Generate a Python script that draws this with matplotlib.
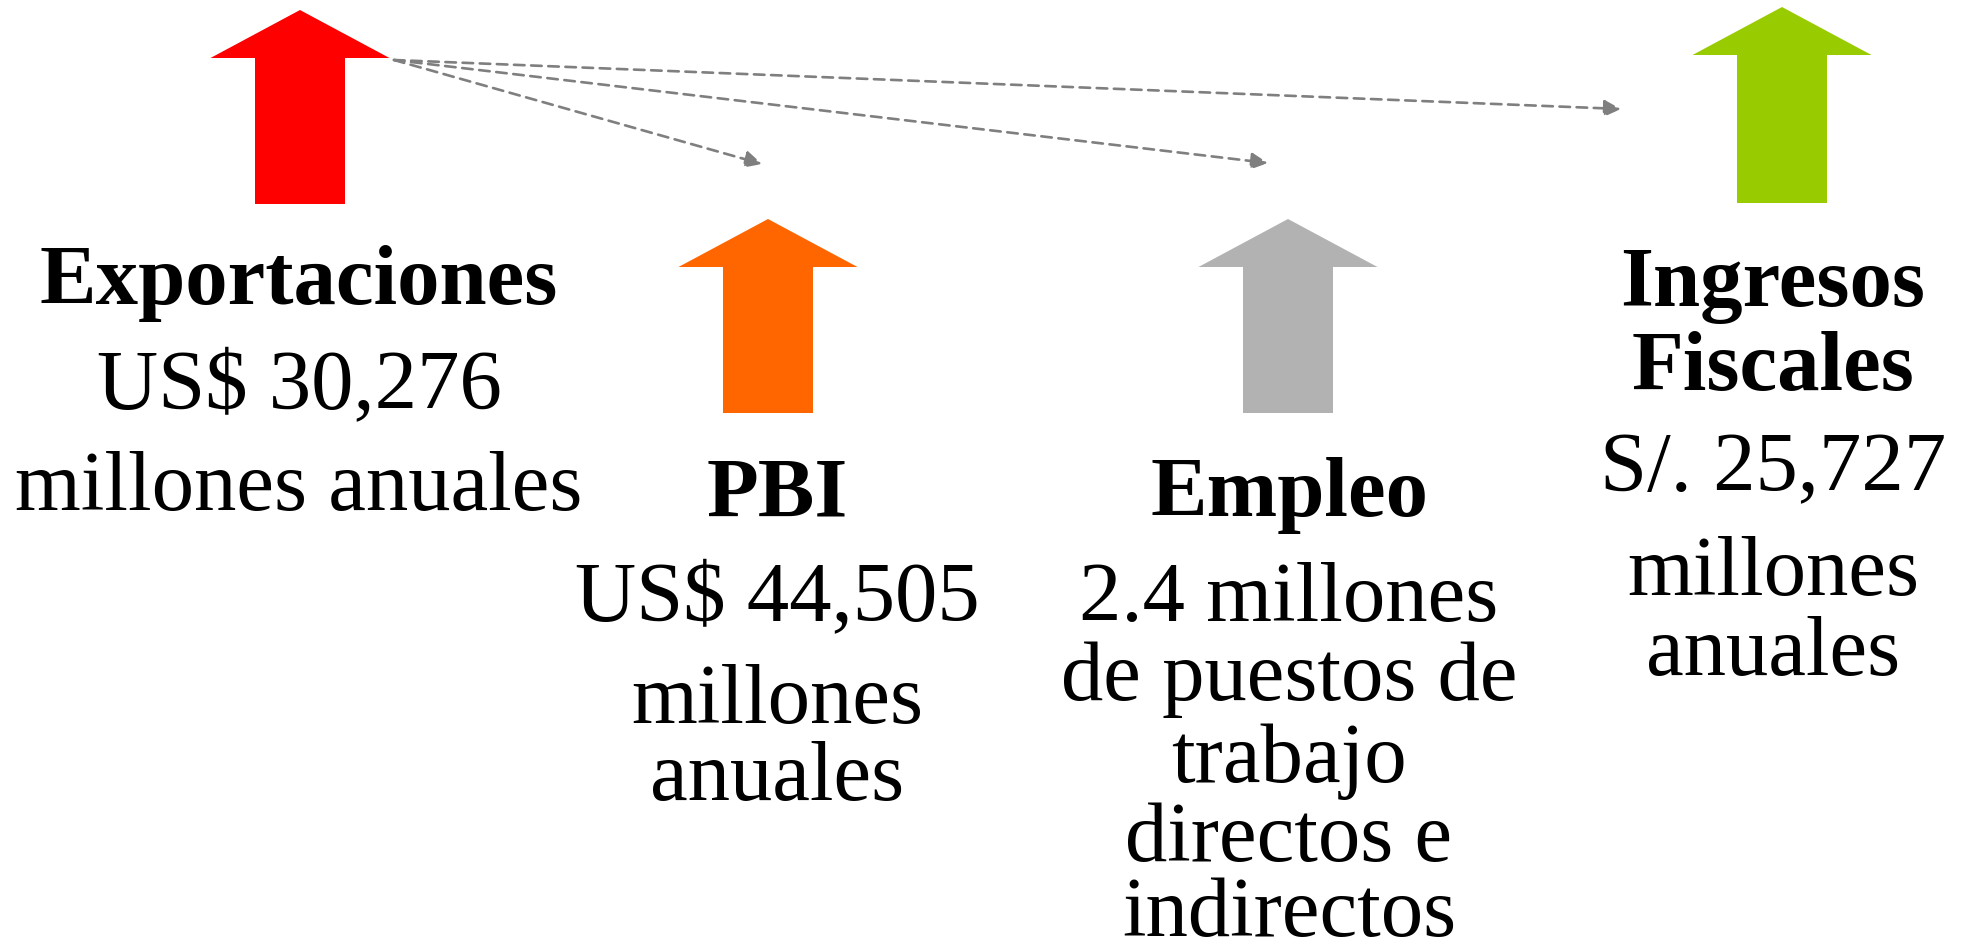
"""
Infographic: impacto económico (Exportaciones, PBI, Empleo, Ingresos Fiscales).
Four upward block arrows with text below, dashed links from Exportaciones.
Output: out.png
"""
import matplotlib

matplotlib.use("Agg")
import matplotlib.pyplot as plt  # noqa: E402
from matplotlib.patches import FancyArrow  # noqa: E402

# --- content -------------------------------------------------------------
titles = ["Exportaciones", "PBI", "Empleo", "Ingresos\nFiscales"]
details = [
    ["US$ 30,276", "millones anuales"],
    ["US$ 44,505", "millones", "anuales"],
    ["2.4 millones", "de puestos de", "trabajo", "directos e", "indirectos"],
    ["S/. 25,727", "millones", "anuales"],
]
colors = ["#FF0000", "#FF6600", "#B2B2B2", "#99CC00"]

# --- layout (pixel coords, y downwards) -----------------------------------
W, H = 1961, 949
arrow_x = [300, 768, 1288, 1782]
arrow_tip = [10, 219, 219, 7]
arrow_bottom = [204, 413, 413, 203]
text_x = [299, 777, 1289, 1773]
title_base = [[304], [516], [516], [306, 390]]
detail_base = [
    [409, 510],
    [621, 723, 800],
    [621, 700, 782, 861, 936],
    [491, 595, 675],
]
link_start = (394, 60)
link_ends = [(762, 164), (1268, 163), (1621, 109)]

FONT = "Liberation Serif"
FS = 61

fig = plt.figure(figsize=(W / 100, H / 100), dpi=100)
ax = fig.add_axes([0, 0, 1, 1])
ax.set_xlim(0, W)
ax.set_ylim(H, 0)
ax.axis("off")

for x, tip, bot, c in zip(arrow_x, arrow_tip, arrow_bottom, colors):
    ax.add_patch(FancyArrow(x, bot, 0, tip - bot, width=90, head_width=179,
                            head_length=48, length_includes_head=True,
                            color=c, lw=0))

for i, title in enumerate(titles):
    for line, yb in zip(title.split("\n"), title_base[i]):
        ax.text(text_x[i], yb, line, ha="center", va="baseline",
                fontsize=FS, fontweight="bold", family=FONT)
    for line, yb in zip(details[i], detail_base[i]):
        ax.text(text_x[i], yb, line, ha="center", va="baseline",
                fontsize=FS, family=FONT)

for end in link_ends:
    ax.annotate("", xy=end, xytext=link_start,
                arrowprops=dict(arrowstyle="-|>,head_length=1.0,head_width=0.5",
                                linestyle=(0, (4, 2.5)), color="#7F7F7F",
                                lw=1.9, shrinkA=0, shrinkB=0))

fig.savefig("out.png", dpi=100)
plt.close(fig)
